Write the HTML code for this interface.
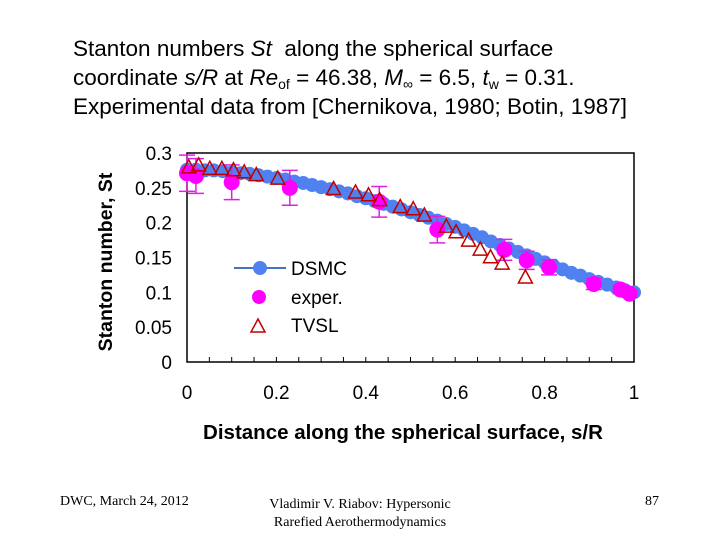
<!DOCTYPE html>
<html><head><meta charset="utf-8"><style>
body{margin:0;width:720px;height:540px;background:#fff;font-family:"Liberation Sans",sans-serif;position:relative;overflow:hidden}
.t{position:absolute;white-space:nowrap}
sub{font-size:14px;line-height:0;vertical-align:-4px}
</style></head><body>
<div class="t" style="left:73px;top:34px;font-size:22.5px;line-height:29px;color:#000">Stanton numbers <i>St</i>&nbsp; along the spherical surface<br>coordinate <i>s/R</i> at <i>Re</i><sub>of</sub> = 46.38, <i>M</i><sub>∞</sub> = 6.5, <i>t</i><sub>w</sub> = 0.31.<br>Experimental data from [Chernikova, 1980; Botin, 1987]</div>
<svg id="c" width="720" height="540" style="position:absolute;left:0;top:0"></svg>
<div class="t" style="left:60px;top:494px;font-family:'Liberation Serif',serif;font-size:14px">DWC, March 24, 2012</div>
<div class="t" style="left:260px;width:200px;top:496px;font-family:'Liberation Serif',serif;font-size:14px;text-align:center;line-height:18px">Vladimir V. Riabov: Hypersonic<br>Rarefied Aerothermodynamics</div>
<div class="t" style="left:645px;top:494px;font-family:'Liberation Serif',serif;font-size:14px">87</div>
<script>
const dsmcS=[0,0.02,0.04,0.06,0.08,0.1,0.12,0.14,0.16,0.18,0.2,0.22,0.24,0.26,0.28,0.3,0.32,0.34,0.36,0.38,0.4,0.42,0.44,0.46,0.48,0.5,0.52,0.54,0.56,0.58,0.6,0.62,0.64,0.66,0.68,0.7,0.72,0.74,0.76,0.78,0.8,0.82,0.84,0.86,0.88,0.9,0.92,0.94,0.96,0.98,1.0];
const dsmcSt=[0.276,0.276,0.275,0.275,0.274,0.272,0.271,0.270,0.268,0.266,0.264,0.262,0.259,0.257,0.254,0.251,0.248,0.245,0.242,0.238,0.235,0.231,0.227,0.223,0.219,0.215,0.211,0.207,0.203,0.198,0.194,0.189,0.184,0.179,0.173,0.168,0.163,0.158,0.153,0.148,0.143,0.138,0.133,0.128,0.124,0.119,0.115,0.111,0.107,0.103,0.100];
const expS=[0,0.02,0.1,0.23,0.43,0.56,0.71,0.76,0.81,0.91,0.97,0.99];
const expSt=[0.271,0.267,0.258,0.250,0.230,0.190,0.161,0.146,0.136,0.112,0.104,0.098];
const expErr=[0.026,0.025,0.025,0.025,0.022,0.019,0.015,0.013,0.011,0.008,0.006,0.005];
const tvS=[0.004,0.026,0.051,0.078,0.104,0.128,0.155,0.203,0.328,0.377,0.406,0.431,0.477,0.506,0.531,0.580,0.602,0.630,0.656,0.679,0.705,0.757];
const tvSt=[0.280,0.283,0.278,0.278,0.276,0.273,0.269,0.264,0.249,0.244,0.240,0.233,0.223,0.220,0.211,0.195,0.187,0.175,0.162,0.151,0.142,0.122];
const xTicks=[0,0.2,0.4,0.6,0.8,1];
const xLabels=["0","0.2","0.4","0.6","0.8","1"];
const yTicks=[0,0.05,0.1,0.15,0.2,0.25,0.3];
const yLabels=["0","0.05","0.1","0.15","0.2","0.25","0.3"];
const X0=187,X1=634,Y0=362,Y1=153;
const xs=v=>X0+v*(X1-X0), ys=v=>Y0-v/0.3*(Y0-Y1);
const svg=document.getElementById('c');const NS='http://www.w3.org/2000/svg';
function mk(t,a,p){const e=document.createElementNS(NS,t);for(const k in a)e.setAttribute(k,a[k]);(p||svg).appendChild(e);return e;}
const frame=mk('rect',{x:X0,y:Y1,width:X1-X0,height:Y0-Y1,fill:'none',stroke:'#000','stroke-width':1.5});


for(let i=0;i<=20;i++){const x=xs(i*0.05);const t=mk('line',{x1:x,x2:x,y1:Y0,y2:Y0-5,stroke:'#000'});

}
xTicks.forEach((v,i)=>{const t=mk('text',{x:xs(v),y:399,'text-anchor':'middle','font-size':19,'font-family':'Liberation Sans'});t.textContent=xLabels[i];

});
yTicks.forEach((v,i)=>{const t=mk('text',{x:172,y:ys(v)+7,'text-anchor':'end','font-size':19,'font-family':'Liberation Sans'});t.textContent=yLabels[i];

});
const xt=mk('text',{x:403,y:439,'text-anchor':'middle','font-size':20.5,'font-weight':'bold','font-family':'Liberation Sans'});xt.textContent='Distance along the spherical surface, s/R';


const yt=mk('text',{x:0,y:0,'text-anchor':'middle','font-size':19.5,'font-weight':'bold','font-family':'Liberation Sans',transform:'translate(112,262) rotate(-90)'});yt.textContent='Stanton number, St';


const g=mk('g',{});


mk('polyline',{points:dsmcS.map((s,i)=>xs(s)+','+ys(dsmcSt[i])).join(' '),fill:'none',stroke:'#4472c4','stroke-width':2},g);
dsmcS.forEach((s,i)=>{const c=mk('circle',{cx:xs(s),cy:ys(dsmcSt[i]),r:7,fill:'#4f81f0'},g);

});
const ge=mk('g',{});


expS.forEach((s,i)=>{const x=xs(s),a=ys(expSt[i]+expErr[i]),b=ys(expSt[i]-expErr[i]);
mk('line',{x1:x,x2:x,y1:a,y2:b,stroke:'#e020e0','stroke-width':1.5},ge);
mk('line',{x1:x-8,x2:x+8,y1:a,y2:a,stroke:'#e020e0','stroke-width':1.5},ge);
mk('line',{x1:x-8,x2:x+8,y1:b,y2:b,stroke:'#e020e0','stroke-width':1.5},ge);
const c=mk('circle',{cx:x,cy:ys(expSt[i]),r:8,fill:'#ff00ff'},ge);

});
const gt=mk('g',{});


function tri(x,y,p){return mk('polygon',{points:`${x},${y-7} ${x-7},${y+6} ${x+7},${y+6}`,fill:'none',stroke:'#c00000','stroke-width':1.5},p);}
tvS.forEach((s,i)=>{const t=tri(xs(s),ys(tvSt[i]),gt);

});
const lg=mk('g',{});


mk('line',{x1:234,x2:286,y1:268,y2:268,stroke:'#4472c4','stroke-width':2},lg);
mk('circle',{cx:260,cy:268,r:7,fill:'#4f81f0'},lg);
mk('circle',{cx:259,cy:297,r:7,fill:'#ff00ff'},lg);
tri(258,326,lg);
[['DSMC',275],['exper.',304],['TVSL',332]].forEach(([n,y])=>{const t=mk('text',{x:291,y:y,'font-size':19,'font-family':'Liberation Sans'},lg);t.textContent=n;

});
</script>
</body></html>
